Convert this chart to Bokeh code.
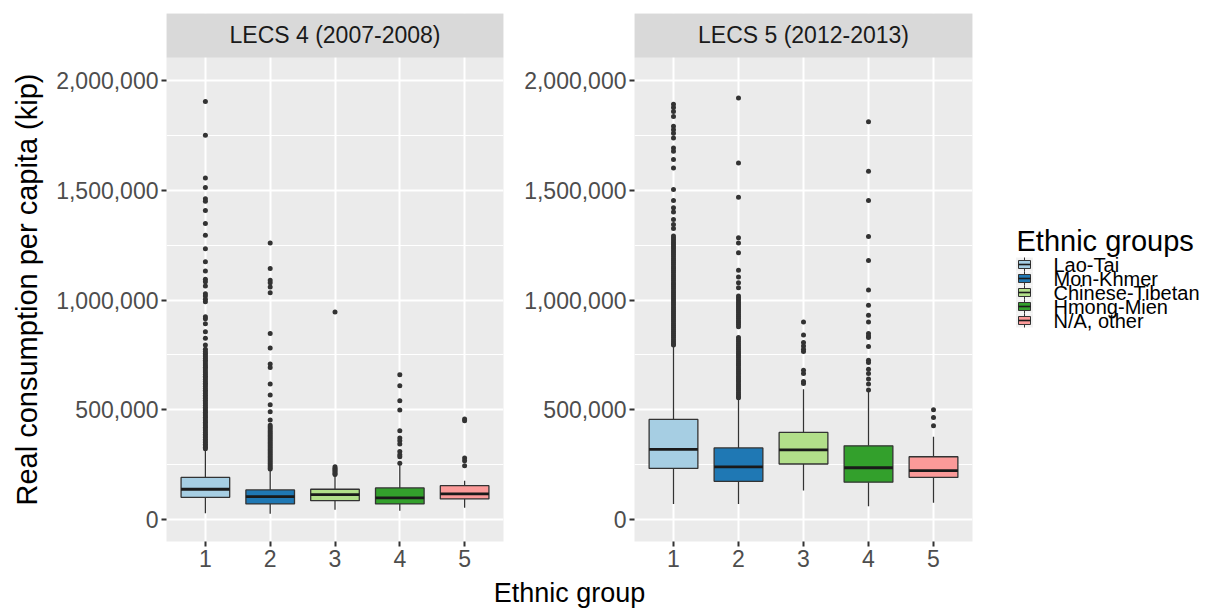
import math
from bokeh.plotting import figure
from bokeh.models import Range1d, FixedTicker, NumeralTickFormatter
from bokeh.layouts import row, column
from bokeh.embed import file_html
from bokeh.resources import INLINE
from bokeh.core.properties import value

# ---------------- data ----------------
ethnic_groups = ["Lao-Tai", "Mon-Khmer", "Chinese-Tibetan", "Hmong-Mien", "N/A, other"]
group_codes = [1, 2, 3, 4, 5]
group_colors = ["#A6CEE3", "#1F78B4", "#B2DF8A", "#33A02C", "#FB9A99"]
panel_titles = ["LECS 4 (2007-2008)", "LECS 5 (2012-2013)"]
y_ticks = [0, 500000, 1000000, 1500000, 2000000]
y_minor_ticks = [250000, 750000, 1250000, 1750000]

# LECS 4 box statistics (per ethnic group 1..5)
lecs4_lower = [29000, 26000, 45000, 40000, 54000]
lecs4_q1 = [101000, 71000, 86000, 71000, 94000]
lecs4_median = [138000, 104500, 113600, 98600, 117000]
lecs4_q3 = [192000, 135000, 138000, 144000, 154500]
lecs4_upper = [321000, 223000, 200000, 250000, 177000]

lecs4_out_laotai = [1904000, 1750000, 1556000, 1512000, 1461000, 1450000, 1408000, 1349000,
                    1295000, 1233000, 1174000, 1132000, 1094000, 1083000, 1064000, 1029000,
                    1018000, 1003000, 992000, 924000, 915000, 892000, 855000, 826000, 795000,
                    776000, 766000, 757000, 749000, 741000, 733000, 726000, 718000, 709000,
                    701000, 694000, 686000, 677000, 669000, 661000, 653000, 646000, 638000,
                    629000, 621000, 614000, 606000, 597000, 589000, 582000, 574000, 566000,
                    558000, 551000, 543000, 535000, 527000, 520000, 512000, 504000, 496000,
                    489000, 481000, 473000, 466000, 458000, 450000, 443000, 435000, 427000,
                    420000, 412000, 404000, 397000, 389000, 381000, 374000, 366000, 358000,
                    351000, 343000, 336000, 329000, 323000]
lecs4_out_monkhmer = [1260000, 1144000, 1090000, 1079000, 1059000, 1033000, 847000, 781000,
                      708000, 692000, 617000, 567000, 523000, 491000, 453000, 429000, 421000,
                      413000, 405000, 397000, 389000, 381000, 373000, 365000, 357000, 349000,
                      341000, 333000, 325000, 317000, 309000, 301000, 293000, 285000, 277000,
                      269000, 261000, 253000, 245000, 237000, 230000]
lecs4_out_chinese = [945000, 240000, 234000, 228000, 222000, 216000, 210000, 205000]
lecs4_out_hmong = [659000, 609000, 541000, 499000, 405000, 371000, 359000, 344000, 310000,
                   295000, 286000, 256000]
lecs4_out_other = [458000, 450000, 280000, 268000, 245000]

# LECS 5 box statistics
lecs5_lower = [71000, 71000, 132000, 60000, 76000]
lecs5_q1 = [233000, 174000, 253000, 170000, 192000]
lecs5_median = [320000, 239500, 317000, 236000, 223000]
lecs5_q3 = [456000, 326000, 397000, 336000, 286000]
lecs5_upper = [790000, 549000, 594000, 586000, 377000]

lecs5_out_laotai = [1892000, 1877000, 1859000, 1836000, 1791000, 1776000, 1760000, 1738000,
                    1692000, 1677000, 1640000, 1601000, 1503000, 1453000, 1420000, 1401000,
                    1367000, 1344000, 1326000, 1291000, 1282000, 1273000, 1263000, 1254000,
                    1245000, 1236000, 1226000, 1217000, 1208000, 1199000, 1189000, 1180000,
                    1171000, 1162000, 1152000, 1143000, 1134000, 1125000, 1115000, 1106000,
                    1097000, 1088000, 1078000, 1069000, 1060000, 1051000, 1041000, 1032000,
                    1023000, 1014000, 1004000, 995000, 986000, 977000, 967000, 958000, 949000,
                    940000, 930000, 921000, 912000, 903000, 893000, 884000, 875000, 866000,
                    856000, 847000, 838000, 829000, 819000, 810000, 801000, 795000]
lecs5_out_monkhmer = [1920000, 1624000, 1468000, 1283000, 1260000, 1215000, 1135000, 1105000,
                      1079000, 1056000, 1018000, 1009000, 1000000, 990000, 981000, 972000,
                      962000, 953000, 944000, 934000, 925000, 916000, 906000, 897000, 888000,
                      878000, 829000, 820000, 811000, 801000, 792000, 783000, 774000, 764000,
                      755000, 746000, 737000, 727000, 718000, 709000, 700000, 690000, 681000,
                      672000, 663000, 653000, 644000, 635000, 626000, 616000, 607000, 598000,
                      589000, 579000, 570000, 561000, 555000]
lecs5_out_chinese = [900000, 841000, 806000, 791000, 776000, 765000, 680000, 665000, 629000,
                     620000]
lecs5_out_hmong = [1812000, 1586000, 1453000, 1289000, 1180000, 1045000, 976000, 930000,
                   900000, 847000, 836000, 829000, 788000, 726000, 715000, 685000, 665000,
                   640000, 617000, 590000]
lecs5_out_other = [500000, 465000, 427000]

lecs4_outliers = [lecs4_out_laotai, lecs4_out_monkhmer, lecs4_out_chinese, lecs4_out_hmong,
                  lecs4_out_other]
lecs5_outliers = [lecs5_out_laotai, lecs5_out_monkhmer, lecs5_out_chinese, lecs5_out_hmong,
                  lecs5_out_other]

y_title = "Real consumption per capita (kip)"
x_title = "Ethnic group"
legend_title = "Ethnic groups"

# ---------------- styling / layout ----------------
FONT = "Liberation Sans"
Y_MIN, Y_PANEL_TOP, Y_MAX = -100000, 2105000, 2305000
X_MIN, X_MAX = 0.4, 5.6
BOX_W = 0.75
FRAME_TOP, FRAME_BOTTOM = 13, 541      # page pixels of the (aligned) plot frames
BORDER_BOTTOM = 36
ROW_H = FRAME_BOTTOM + BORDER_BOTTOM   # 577
YT_W = 46


def blank_fig(x0, w, h, y_top, y_bottom):
    """Empty figure whose data units are page pixels."""
    f = figure(width=w, height=h, x_range=Range1d(x0, x0 + w),
               y_range=Range1d(y_bottom, y_top),
               x_axis_type=None, y_axis_type=None, output_backend="svg",
               toolbar_location=None, title=None, min_border=0)
    f.grid.visible = False
    f.outline_line_color = None
    f.background_fill_color = "white"
    f.border_fill_color = "white"
    return f


def make_panel(title, lower, q1, med, q3, upper, outliers, width, left, right):
    p = figure(width=width, height=ROW_H, x_range=Range1d(X_MIN, X_MAX),
               y_range=Range1d(Y_MIN, Y_MAX), output_backend="svg",
               toolbar_location=None, title=None,
               min_border_left=left, min_border_right=right,
               min_border_top=FRAME_TOP, min_border_bottom=BORDER_BOTTOM)
    p.background_fill_color = "#EBEBEB"
    p.border_fill_color = "white"
    p.outline_line_color = None

    p.xaxis.ticker = FixedTicker(ticks=group_codes)
    p.yaxis.ticker = FixedTicker(ticks=y_ticks, minor_ticks=y_minor_ticks)
    p.yaxis.formatter = NumeralTickFormatter(format="0,0")

    p.xgrid.grid_line_color = "white"
    p.xgrid.grid_line_width = 2
    p.ygrid.grid_line_color = "white"
    p.ygrid.grid_line_width = 2
    p.ygrid.minor_grid_line_color = "white"
    p.ygrid.minor_grid_line_width = 1

    for ax in (p.xaxis[0], p.yaxis[0]):
        ax.axis_line_color = None
        ax.major_tick_line_color = "#333333"
        ax.major_tick_line_width = 2
        ax.major_tick_out = 5
        ax.major_tick_in = 0
        ax.minor_tick_line_color = None
        ax.major_label_text_font = FONT
        ax.major_label_text_font_size = "23px"
        ax.major_label_text_color = "#4D4D4D"
        ax.major_label_standoff = 3

    # outliers
    for code, outs in zip(group_codes, outliers):
        p.scatter(x=[code] * len(outs), y=outs, size=5, color="#333333", line_width=0)

    # whiskers
    p.segment(x0=group_codes, y0=q3, x1=group_codes, y1=upper, line_color="#333333",
              line_width=1.3)
    p.segment(x0=group_codes, y0=q1, x1=group_codes, y1=lower, line_color="#333333",
              line_width=1.3)
    # boxes
    p.vbar(x=group_codes, width=BOX_W, bottom=q1, top=q3, fill_color=group_colors,
           line_color="#333333", line_width=1.3)
    # medians
    x0 = [c - BOX_W / 2 for c in group_codes]
    x1 = [c + BOX_W / 2 for c in group_codes]
    p.segment(x0=x0, y0=med, x1=x1, y1=med, line_color="#1A1A1A", line_width=2.8)

    # facet strip
    p.quad(left=[X_MIN], right=[X_MAX], bottom=[Y_PANEL_TOP], top=[Y_MAX],
           fill_color="#D9D9D9", line_color=None)
    p.text(x=[(X_MIN + X_MAX) / 2], y=[(Y_PANEL_TOP + Y_MAX) / 2], text=[title],
           text_font=value(FONT), text_font_size="23px", text_color="#1A1A1A",
           text_align="center", text_baseline="middle")
    return p


# y-axis title strip (its frame is aligned with the panel frames: page y 13..541)
yt = blank_fig(0, YT_W, ROW_H, FRAME_TOP, FRAME_BOTTOM)
yt.text(x=[26], y=[289], text=[y_title], angle=math.pi / 2, text_font=value(FONT),
        text_font_size="29px", text_color="#000000", text_align="center",
        text_baseline="middle")

P1_W = 166 - YT_W + 337 + 10
p1 = make_panel(panel_titles[0], lecs4_lower, lecs4_q1, lecs4_median, lecs4_q3, lecs4_upper,
                lecs4_outliers, width=P1_W, left=166 - YT_W, right=10)
P2_LEFT = 634 - (YT_W + P1_W)
P2_W = P2_LEFT + 338 + 5
p2 = make_panel(panel_titles[1], lecs5_lower, lecs5_q1, lecs5_median, lecs5_q3, lecs5_upper,
                lecs5_outliers, width=P2_W, left=P2_LEFT, right=5)

# ---------------- legend (drawn in its own page-pixel figure) ----------------
LEG_X0 = YT_W + P1_W + P2_W
LEG_W = 1220 - LEG_X0
leg = blank_fig(LEG_X0, LEG_W, ROW_H, FRAME_TOP, FRAME_BOTTOM)
leg.text(x=[1016], y=[240], text=[legend_title], text_font=value(FONT),
         text_font_size="29px", text_color="#000000", text_align="left",
         text_baseline="middle")
item_y = [264 + 14 * i for i in range(len(ethnic_groups))]
kx = 1024
n = len(ethnic_groups)
leg.rect(x=[kx] * n, y=item_y, width=17, height=14, fill_color="#F2F2F2", line_color=None)
leg.quad(left=[kx - 6] * n, right=[kx + 6] * n, top=[y - 4 for y in item_y],
         bottom=[y + 4 for y in item_y], fill_color=group_colors, line_color="#333333",
         line_width=1)
leg.segment(x0=[kx - 6] * n, x1=[kx + 6] * n, y0=item_y, y1=item_y, line_color="#1A1A1A",
            line_width=1.6)
leg.segment(x0=[kx] * n, x1=[kx] * n, y0=[y - 4 for y in item_y],
            y1=[y - 7 for y in item_y], line_color="#333333", line_width=1)
leg.segment(x0=[kx] * n, x1=[kx] * n, y0=[y + 4 for y in item_y],
            y1=[y + 7 for y in item_y], line_color="#333333", line_width=1)
leg.text(x=[1053] * n, y=item_y, text=ethnic_groups, text_font=value(FONT),
         text_font_size="20px", text_color="#000000", text_align="left",
         text_baseline="middle")

# ---------------- shared x-axis title ----------------
XT_H = 608 - ROW_H
xt = blank_fig(0, 1220, XT_H, ROW_H, 608)
xt.text(x=[569], y=[592], text=[x_title], text_font=value(FONT),
        text_font_size="27px", text_color="#000000", text_align="center",
        text_baseline="middle")

layout = column(row(yt, p1, p2, leg), xt)
open("out.html", "w").write(file_html(layout, INLINE))
